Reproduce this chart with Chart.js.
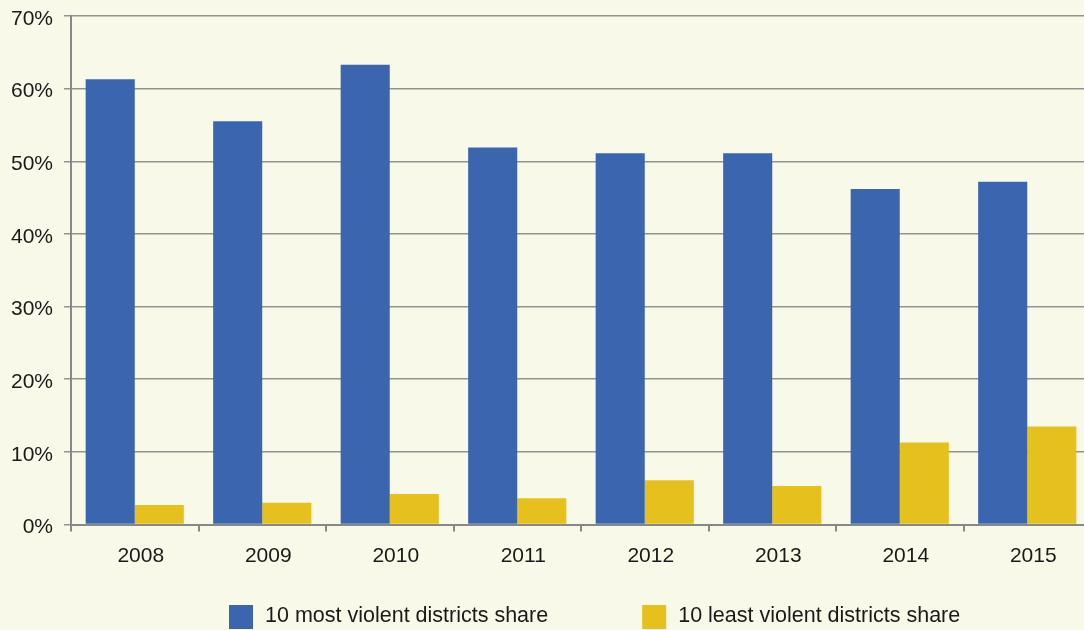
<!DOCTYPE html>
<html>
<head>
<meta charset="utf-8">
<script src="https://cdn.jsdelivr.net/npm/chart.js@4/dist/chart.umd.min.js"></script>
<style>
  html, body { margin: 0; padding: 0; background: #f9f9e9; overflow: hidden; }
  #wrap { width: 1091px; height: 630px; }
</style>
</head>
<body>
<div id="wrap"><canvas id="shareChart" width="1091" height="630"></canvas></div>
<script>
var years = ["2008", "2009", "2010", "2011", "2012", "2013", "2014", "2015"];
var mostViolent = [61.3, 55.5, 63.3, 51.9, 51.1, 51.1, 46.2, 47.2];
var leastViolent = [2.7, 3.0, 4.2, 3.6, 6.1, 5.3, 11.3, 13.5];
var yTicks = [0, 10, 20, 30, 40, 50, 60, 70];

var BLUE = "#3b65ae";
var YELLOW = "#e6c11e";
var FONT = "'Liberation Sans', Arial, Helvetica, sans-serif";

// legend drawn by hand below the axis
var bottomLegend = {
  id: "bottomLegend",
  afterDraw: function (chart) {
    var ctx = chart.ctx;
    var x = 229, y = 605, box = 24, gap = 12, spacing = 94;
    ctx.save();
    ctx.font = "21.5px " + FONT;
    ctx.textBaseline = "middle";
    ctx.textAlign = "left";
    chart.data.datasets.forEach(function (ds) {
      ctx.fillStyle = ds.backgroundColor;
      ctx.fillRect(x, y, box, box);
      ctx.fillStyle = "#1a1a1a";
      ctx.fillText(ds.label, x + box + gap, y + 11);
      x += box + gap + ctx.measureText(ds.label).width + spacing;
    });
    ctx.restore();
  }
};

var ctx = document.getElementById("shareChart");
var chart = new Chart(ctx, {
  type: "bar",
  data: {
    labels: years,
    datasets: [
      {
        label: "10 most violent districts share",
        data: mostViolent,
        backgroundColor: BLUE,
        borderWidth: 0
      },
      {
        label: "10 least violent districts share",
        data: leastViolent,
        backgroundColor: YELLOW,
        borderWidth: 0
      }
    ]
  },
  options: {
    responsive: false,
    animation: false,
    devicePixelRatio: 1,
    layout: { padding: { top: 16, left: 0, right: 0, bottom: 0 } },
    datasets: {
      bar: { categoryPercentage: 0.77, barPercentage: 1.0 }
    },
    plugins: {
      legend: { display: false },
      tooltip: { enabled: false }
    },
    scales: {
      x: {
        offset: true,
        grid: {
          display: true,
          offset: true,
          drawOnChartArea: false,
          drawTicks: true,
          tickLength: 7,
          color: "#888888",
          lineWidth: 2
        },
        border: { display: true, color: "#888888", width: 2 },
        ticks: {
          color: "#1a1a1a",
          font: { family: FONT, size: 21 },
          padding: 12,
          labelOffset: 6,
          maxRotation: 0
        },
        afterFit: function (scale) { scale.height = 105.5; }
      },
      y: {
        min: 0,
        max: 70,
        afterBuildTicks: function (scale) {
          scale.ticks = yTicks.map(function (v) { return { value: v }; });
        },
        grid: {
          color: "#939390",
          lineWidth: 1.5,
          drawTicks: true,
          tickLength: 7
        },
        border: { display: true, color: "#888888", width: 2 },
        ticks: {
          color: "#1a1a1a",
          font: { family: FONT, size: 21 },
          padding: 11,
          labelOffset: 3,
          callback: function (v) { return v + "%"; }
        },
        afterFit: function (scale) {
          scale.width = 71;
          scale.paddingTop = 0;
          scale.paddingBottom = 0;
        }
      }
    }
  },
  plugins: [bottomLegend]
});
</script>
</body>
</html>
